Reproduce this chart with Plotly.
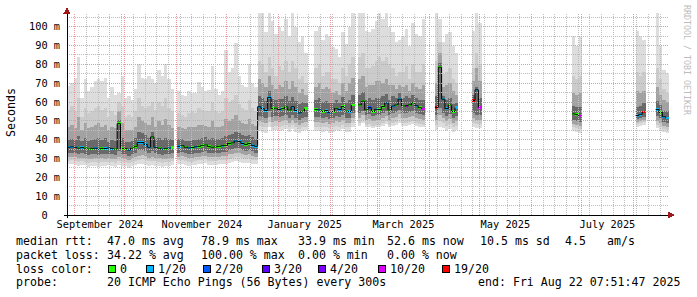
import plotly.graph_objects as go
from datetime import datetime, timedelta

# ---------------------------------------------------------------- data
START = datetime(2024, 8, 27, 7, 51, 47)
END = datetime(2025, 8, 22, 7, 51, 47)
BIN_DAYS = 2

# index of each 2-day sample (samples missing from the list = no data)
bin_index = (list(range(0, 32)) + list(range(33, 72)) + list(range(74, 86)) +
             list(range(87, 107)) + list(range(110, 117)) + list(range(121, 124)) +
             list(range(151, 154)) + list(range(170, 173)) + list(range(176, 180)))

# median round trip time (ms)
median_ms = [
    36.0, 36.2, 36.0, 35.5, 35.8, 35.5, 35.0, 35.2, 35.5, 35.0, 35.4, 35.3, 35.6, 35.2, 35.0, 48.5,
    35.3, 35.2, 34.5, 35.5, 36.5, 38.5, 38.5, 37.5, 36.0, 41.5, 36.0, 35.5, 35.0, 35.2, 35.5, 35.8,
    36.5, 36.8, 36.0, 35.6, 35.8, 36.2, 36.5, 37.0, 37.2, 36.3, 36.0, 36.2, 36.5, 36.8, 37.0, 38.0,
    38.3, 39.3, 39.0, 38.0, 37.5, 38.0, 37.0, 36.5,
    57.5, 56.5, 55.5, 62.5, 56.5, 56.8, 56.0, 56.5, 57.5, 55.8, 57.5, 55.5, 54.2, 55.2, 56.5,
    56.0, 55.8, 55.0, 55.5, 54.3, 55.0, 56.7, 56.0, 57.6, 55.2, 55.0, 58.5,
    58.5, 60.5, 55.8, 57.0, 55.0, 56.2, 56.0, 57.6, 59.5, 55.8, 57.9, 58.5, 61.5, 57.9, 58.0, 58.5,
    59.6, 58.0, 57.0, 56.4,
    57.2, 78.5, 61.5, 56.5, 58.5, 55.0, 57.0,
    60.8, 66.5, 57.0,
    53.7, 53.3, 52.5,
    52.8, 53.5, 54.8,
    56.0, 54.5, 52.2, 51.5,
]

# lost pings out of 20 for each sample
loss_count = [
    1, 1, 1, 0, 1, 0, 0, 0, 1, 1, 0, 1, 1, 1, 0, 0, 0, 0, 1, 0, 0, 1, 1, 1, 1, 0, 1, 0, 1, 0, 1, 0,
    1, 0, 0, 1, 0, 1, 0, 0, 0, 0, 0, 0, 0, 1, 0, 0, 0, 1, 1, 1, 0, 0, 1, 1,
    1, 1, 1, 1, 0, 0, 1, 0, 0, 0, 1, 1, 1, 0, 0,
    0, 1, 0, 1, 1, 0, 0, 1, 0, 0, 1, 0,
    0, 0, 0, 2, 0, 1, 0, 0, 1, 0, 1, 0, 1, 0, 10, 0, 0, 1, 0, 10,
    19, 0, 1, 1, 0, 0, 1,
    19, 1, 10,
    0, 0, 10,
    1, 1, 19,
    1, 0, 1, 1,
]

# smoke: spread of the 20 pings (ms), outermost to innermost
smoke_max = [
    68.6, 70, 73, 84, 62, 72, 66, 68, 71, 72, 71, 73, 62, 68, 64, 65,
    74, 62, 63, 61, 67, 80, 73, 72, 74, 72, 70, 77, 74, 80, 72, 67,
    66, 64, 63, 66, 65, 64.7, 70.9, 68, 66, 66.5, 78.9, 67, 64, 66, 87.8, 76,
    78, 91.3, 74, 69, 68, 80, 70, 68,
    110, 110, 97, 110, 103, 96, 100, 98, 104, 95, 110, 100, 92, 95, 86,
    98, 100, 93, 96, 95, 89, 88, 84, 97, 91, 100, 110,
    110, 110, 98, 97, 99, 103, 110, 104, 110, 100, 97, 92, 93, 95, 99, 90,
    102, 96, 95, 104,
    110, 104, 92, 96, 97, 90, 86,
    98, 110, 102,
    95, 90, 95,
    98, 95, 93,
    110, 90, 77, 75.5,
]
smoke_hi3 = [
    56, 58, 55, 62, 52, 57, 54, 55, 57, 58, 56, 57, 52, 55, 53, 60,
    58, 52, 53, 52, 55, 62, 58, 57, 58, 60, 56, 60, 58, 62, 57, 55,
    54, 53, 52, 54, 55, 54, 57, 56, 55, 55, 60, 55, 54, 55, 62, 60,
    61, 64, 59, 57, 56, 61, 57, 55,
    82, 80, 76, 84, 78, 74, 79, 77, 82, 76, 82, 78, 72, 74, 70,
    78, 80, 74, 76, 76, 72, 72, 70, 78, 74, 80, 84,
    84, 86, 78, 78, 79, 82, 84, 82, 84, 80, 78, 74, 76, 76, 79, 72,
    80, 76, 76, 80,
    82, 92, 75, 76, 78, 72, 70,
    78, 86, 80,
    74, 72, 74,
    76, 74, 76,
    78, 72, 67, 65,
]
smoke_hi2 = [
    47, 48, 46, 52, 45, 49, 46, 47, 48, 49, 47, 48, 45, 47, 46, 55,
    49, 45, 45, 45, 47, 52, 50, 49, 48, 52, 47, 50, 48, 51, 48, 46,
    47, 46, 45.5, 46.5, 47, 46.5, 48, 48, 47.5, 47, 50, 47, 47, 47.5, 51, 50,
    51, 53, 50, 49, 48.5, 51, 48.5, 47.5,
    72, 70, 68, 74, 69, 67, 69, 68, 71, 67, 71, 68, 65, 67, 64,
    68, 70, 67, 68, 67, 65, 66, 64, 70, 66, 70, 73,
    72, 74, 68, 69, 69, 71, 71, 70, 72, 69, 69, 67, 69, 68, 69, 66,
    70, 68, 67, 69,
    70, 86, 68, 69, 70, 66, 64,
    71, 78, 71,
    65, 64, 65,
    66, 65, 66,
    68, 64, 61, 60,
]
smoke_hi1 = [
    40, 40.5, 40, 42, 39.5, 41, 39.5, 40, 40.5, 41, 40, 41, 39, 40, 39.5, 50.5,
    41, 39, 39, 39.5, 41, 44, 43.5, 42.5, 41, 44, 40.5, 41, 40, 41, 40.5, 40,
    40.5, 40.5, 39.5, 39.5, 40, 40, 40.5, 41, 41.5, 40.5, 41, 40.5, 40.5, 41, 42, 42.5,
    43, 44, 43.5, 42.5, 42, 42.5, 41.5, 40.5,
    63, 62, 60.5, 66, 61.5, 61, 61.5, 61.5, 63, 60.5, 62.5, 60.5, 59, 60, 59.5,
    61, 62, 60, 60.5, 59.5, 59.5, 61, 59.5, 62.5, 59.5, 61, 64,
    63.5, 65.5, 61, 62, 61, 62, 62, 63, 64.5, 61, 63, 62, 65, 62, 63, 62,
    64, 62, 61, 61,
    63, 81, 63, 61, 62, 59, 59.5,
    64, 68, 62,
    58, 57.5, 57.5,
    57.5, 58, 59.5,
    60.5, 58.5, 55.5, 55,
]
smoke_lo1 = [
    33, 33.2, 33, 32.5, 32.8, 32.5, 32, 32.3, 32.5, 32, 32.5, 32.3, 32.6, 32.2, 32, 34,
    32.4, 32.2, 31.6, 32.5, 33.2, 34.5, 34.5, 33.8, 32.8, 34, 32.8, 32.5, 32, 32.2, 32.5, 32.8,
    33.2, 33.5, 32.8, 32.5, 32.6, 33, 33.2, 33.6, 33.8, 33, 32.8, 33, 33.2, 33.5, 33.6, 34.5,
    34.8, 35.6, 35.4, 34.6, 34.2, 34.6, 33.8, 33.2,
    52.5, 52, 51.5, 55, 52, 52.5, 52, 52.5, 53, 51.5, 53, 51.5, 50.5, 51.5, 52,
    52, 52, 51.5, 52, 51, 51.5, 52.5, 52, 53, 51.5, 51.5, 54,
    54, 55.5, 53, 53.5, 52.5, 53, 53, 54, 55, 53, 54, 54.5, 56, 54, 54, 54.5,
    55, 54, 53.5, 53,
    53, 57, 54, 52.5, 53.5, 51.5, 52.5,
    54, 53, 53,
    50.5, 50, 49.5,
    50.8, 51.3, 52.3,
    52.5, 51.5, 49.5, 49,
]
smoke_lo2 = [
    30.8, 31, 30.8, 30.2, 30.5, 30.3, 29.8, 30, 30.3, 29.8, 30.2, 30, 30.4, 30, 29.8, 31,
    30.2, 30, 29.4, 30.2, 30.8, 31.5, 31.8, 31.2, 30.5, 31, 30.5, 30.3, 29.8, 30, 30.3, 30.5,
    31, 31.3, 30.6, 30.3, 30.4, 30.8, 31, 31.4, 31.6, 30.8, 30.6, 30.8, 31, 31.3, 31.4, 32.2,
    32.5, 33.2, 33, 32.3, 31.9, 32.3, 31.5, 31,
    50, 49.5, 49, 52, 49.5, 50, 49.5, 50, 50.5, 49, 50.5, 49, 48, 49, 49.5,
    49.5, 49.5, 49, 49.5, 48.5, 49, 50, 49.5, 50.5, 49, 49, 51.5,
    51.5, 53, 50.5, 51, 50, 50.5, 50.5, 51.5, 52.5, 50.5, 51.5, 52, 53.5, 51.5, 51.5, 52,
    52.5, 51.5, 51, 50.5,
    50.5, 53, 51.5, 50, 51, 49, 50,
    51.5, 50.5, 50.5,
    48.5, 48, 47.5,
    49.5, 50, 50.5,
    50, 49, 47.5, 47,
]
smoke_lo3 = [
    28.8, 29, 28.8, 28.2, 28.5, 28.3, 27.8, 28, 28.3, 27.8, 28.2, 28, 28.4, 28, 27.8, 28.5,
    28.2, 28, 27.4, 28.2, 28.8, 29.2, 29.5, 29, 28.5, 28.8, 28.5, 28.3, 27.8, 28, 28.3, 28.5,
    29, 29.2, 28.6, 28.3, 28.4, 28.8, 29, 29.3, 29.5, 28.8, 28.6, 28.8, 29, 29.2, 29.3, 30,
    30.3, 31, 30.8, 30.1, 29.8, 30.1, 29.4, 29,
    47.5, 47, 46.5, 49.5, 47, 47.5, 47, 47.5, 48, 46.5, 48, 46.5, 45.5, 46.5, 47,
    47, 47, 46.5, 47, 46, 46.5, 47.5, 47, 48, 46.5, 46.5, 49,
    49, 50.5, 48, 48.5, 47.5, 48, 48, 49, 50, 48, 49, 49.5, 51, 49, 49, 49.5,
    50, 49, 48.5, 48,
    48, 50, 49, 47.5, 48.5, 46.5, 47.5,
    49, 48.5, 48.5,
    46.5, 46, 45.5,
    48.5, 49, 49.5,
    48, 47, 45.5, 45,
]
smoke_min = [
    27, 27, 26.8, 26, 26.5, 26.3, 25.5, 26, 26.2, 25.5, 26, 25.8, 26.4, 26, 25.5, 26.5,
    26, 25.8, 25.2, 26, 26.5, 27, 27.2, 26.8, 26.2, 26.5, 26.2, 26, 25.6, 26, 26.2, 26.5,
    27, 27.2, 26.5, 26.2, 26.4, 26.8, 27, 27.2, 27.4, 26.8, 26.5, 26.8, 27, 27.2, 27.2, 27.8,
    28, 28.6, 28.4, 27.8, 27.5, 27.8, 27.2, 27,
    44.5, 44, 43.5, 46.5, 44.5, 45, 44.5, 45, 45.5, 44, 45.5, 44, 43.5, 44.5, 45,
    44.5, 44.5, 44, 44.5, 43.5, 44, 45, 44.5, 45.5, 44, 44, 46.5,
    47.5, 49, 46.5, 47, 46, 46.5, 46.5, 47.5, 48.5, 46.5, 47.5, 48, 49, 47.5, 47.5, 48,
    48.5, 47.5, 47, 46.5,
    45, 47, 46, 44.5, 45.5, 44, 45,
    46.5, 46, 46,
    44.5, 44, 43.5,
    47, 47.5, 48,
    46, 45, 44, 43.5,
]

# axis texts
y_ticks = [0, 10, 20, 30, 40, 50, 60, 70, 80, 90, 100]
y_tick_labels = ["0\u00a0\u00a0", "10 m", "20 m", "30 m", "40 m", "50 m",
                 "60 m", "70 m", "80 m", "90 m", "100 m"]
x_label_months = [(2024, 9), (2024, 11), (2025, 1), (2025, 3), (2025, 5), (2025, 7)]
x_tick_labels = ["September 2024", "November 2024", "January 2025",
                 "March 2025", "May 2025", "July 2025"]
y_title = "Seconds"
watermark = "RRDTOOL / TOBI OETIKER"

# legend texts
rtt_title = "median rtt:"
rtt_stats = ["47.0 ms avg", "78.9 ms max", "33.9 ms min", "52.6 ms now", "10.5 ms sd", "4.5", "am/s"]
loss_title = "packet loss:"
loss_stats = ["34.22 % avg", "100.00 % max", "0.00 % min", "0.00 % now"]
color_title = "loss color:"
loss_levels = [0, 1, 2, 3, 4, 10, 19]
loss_labels = ["0", "1/20", "2/20", "3/20", "4/20", "10/20", "19/20"]
probe_title = "probe:"
probe_text = "20 ICMP Echo Pings (56 Bytes) every 300s"
end_text = "end: Fri Aug 22 07:51:47 2025"

# ---------------------------------------------------------------- styling
LOSS_COLORS = {0: "#26ff00", 1: "#00b8ff", 2: "#0059ff", 3: "#5e00ff",
               4: "#7e00ff", 10: "#dd00ff", 19: "#ff0000"}
SMOKE_COLORS = ["#dddddd", "#cbcbcb", "#a2a2a2", "#696969"]
MONO = "DejaVu Sans Mono"
W, H = 697, 297
PL, PR, PT, PB = 67, 669, 13, 215          # plot area in pixels
Y_TOP = 107.3

BIN_MS = BIN_DAYS * 86400 * 1000
x_center = [START + timedelta(days=BIN_DAYS * i + BIN_DAYS / 2) for i in bin_index]

fig = go.Figure()

bands = [(smoke_min, smoke_max), (smoke_lo3, smoke_hi3),
         (smoke_lo2, smoke_hi2), (smoke_lo1, smoke_hi1)]
for (lo, hi), col in zip(bands, SMOKE_COLORS):
    fig.add_trace(go.Bar(x=x_center, y=[h - l for l, h in zip(lo, hi)], base=lo,
                         width=BIN_MS, marker=dict(color=col, line=dict(width=0)),
                         hoverinfo="skip"))

# black median line (step), broken at gaps
lx, ly = [], []
prev = None
for i, m in zip(bin_index, median_ms):
    if prev is not None and i != prev + 1:
        lx.append(None)
        ly.append(None)
    lx.append(START + timedelta(days=BIN_DAYS * i))
    ly.append(m)
    prev = i
fig.add_trace(go.Scatter(x=lx, y=ly, mode="lines", line=dict(color="black", width=1, shape="hv"),
                         connectgaps=False, hoverinfo="skip"))

# loss-coloured median segments
THICK = 1.3
for lv in loss_levels:
    xs = [x for x, l in zip(x_center, loss_count) if l == lv]
    ms = [m for m, l in zip(median_ms, loss_count) if l == lv]
    if not xs:
        continue
    fig.add_trace(go.Bar(x=xs, y=[THICK] * len(xs), base=[m - THICK / 2 for m in ms],
                         width=BIN_MS, marker=dict(color=LOSS_COLORS[lv], line=dict(width=0)),
                         hoverinfo="skip"))


def pxx(p):
    return (p - PL) / (PR - PL)


def pyy(p):
    return (PB - p) / (PB - PT)


shapes = []
GRID_MINOR = "#bdbdbd"
GRID_MAJOR = "#e89a9a"
DOT = "1px,1px"
# horizontal grid
for v in range(5, 110, 5):
    if v > Y_TOP:
        break
    major = v % 10 == 0
    shapes.append(dict(type="line", xref="paper", yref="y", x0=0, x1=1, y0=v, y1=v, layer="above",
                       line=dict(color=GRID_MAJOR if major else GRID_MINOR, width=1, dash=DOT)))
# vertical grid: months (major) and weeks (minor)
month_starts = []
y_, m_ = START.year, START.month
while True:
    m_ += 1
    if m_ > 12:
        m_, y_ = 1, y_ + 1
    d = datetime(y_, m_, 1)
    if d >= END:
        break
    month_starts.append(d)
d = datetime(START.year, START.month, START.day) + timedelta(days=1)
while d.weekday() != 6:
    d += timedelta(days=1)
while d < END:
    if d not in month_starts:
        shapes.append(dict(type="line", xref="x", yref="paper", x0=d, x1=d, y0=0, y1=1, layer="above",
                           line=dict(color=GRID_MINOR, width=1, dash=DOT)))
    d += timedelta(days=7)
for d in month_starts:
    shapes.append(dict(type="line", xref="x", yref="paper", x0=d, x1=d, y0=0, y1=1, layer="above",
                       line=dict(color=GRID_MAJOR, width=1, dash=DOT)))

# axes with arrows
AX = "#000000"
ARROW = "#a01818"
shapes.append(dict(type="line", xref="paper", yref="paper", x0=pxx(64), x1=pxx(670),
                   y0=pyy(215), y1=pyy(215), layer="above", line=dict(color=AX, width=1)))
shapes.append(dict(type="line", xref="paper", yref="paper", x0=pxx(67), x1=pxx(67),
                   y0=pyy(218), y1=pyy(11), layer="above", line=dict(color=AX, width=1)))
shapes.append(dict(type="path", xref="paper", yref="paper", layer="above",
                   path=f"M {pxx(63.5)},{pyy(13.5)} L {pxx(70.5)},{pyy(13.5)} L {pxx(67)},{pyy(7)} Z",
                   fillcolor=ARROW, line=dict(color=ARROW, width=0)))
shapes.append(dict(type="path", xref="paper", yref="paper", layer="above",
                   path=f"M {pxx(668)},{pyy(211.5)} L {pxx(668)},{pyy(218.5)} L {pxx(674.5)},{pyy(215)} Z",
                   fillcolor=ARROW, line=dict(color=ARROW, width=0)))

# legend colour boxes
box_x = [108, 146, 203, 262, 318, 378, 442]
for bx, lv in zip(box_x, loss_levels):
    shapes.append(dict(type="rect", xref="paper", yref="paper", layer="above",
                       x0=pxx(bx), x1=pxx(bx + 7.5), y0=pyy(265), y1=pyy(272.5),
                       fillcolor=LOSS_COLORS[lv], line=dict(color="black", width=1)))

annotations = []
LEG_FONT = dict(family=MONO, size=11.6, color="black")


def text_at(x, y, s, font=LEG_FONT):
    annotations.append(dict(text=s, xref="paper", yref="paper", x=pxx(x - 0.5), y=pyy(y),
                            xanchor="left", yanchor="middle", showarrow=False,
                            borderpad=0, borderwidth=0, font=font))


COLS = [107, 201, 298, 387, 480, 565, 607]
L1, L2, L3, L4 = 241, 255, 268.7, 282
text_at(16, L1, rtt_title)
for x, s in zip(COLS, rtt_stats):
    text_at(x, L1, s)
text_at(16, L2, loss_title)
for x, s in zip(COLS, loss_stats):
    text_at(x, L2, s)
text_at(16, L3, color_title)
for bx, s in zip(box_x, loss_labels):
    text_at(bx + 12, L3, s)
text_at(16, L4, probe_title)
text_at(107, L4, probe_text)
text_at(478, L4, end_text)

annotations.append(dict(text=y_title, xref="paper", yref="paper", x=pxx(11), y=pyy(113),
                        xanchor="center", yanchor="middle", textangle=-90, showarrow=False,
                        font=dict(family=MONO, size=11.6, color="black")))
annotations.append(dict(text=watermark, xref="paper", yref="paper", x=pxx(687), y=pyy(60),
                        xanchor="center", yanchor="middle", textangle=90, showarrow=False,
                        font=dict(family=MONO, size=8.3, color="#bcbcbc")))


def mid_month(y, m):
    a = datetime(y, m, 1)
    b = datetime(y + (m // 12), m % 12 + 1, 1)
    return a + (b - a) / 2


fig.update_layout(
    width=W, height=H, margin=dict(l=PL, r=W - PR, t=PT, b=H - PB, pad=0),
    paper_bgcolor="white", plot_bgcolor="white", barmode="overlay", showlegend=False,
    shapes=shapes, annotations=annotations, bargap=0,
    xaxis=dict(type="date", range=[START, END], showgrid=False, zeroline=False, showline=False,
               tickvals=[mid_month(y, m) for y, m in x_label_months], ticktext=x_tick_labels,
               ticks="", tickfont=dict(family=MONO, size=10.3, color="black"), ticklabelstandoff=2),
    yaxis=dict(range=[0, Y_TOP], showgrid=False, zeroline=False, showline=False,
               tickvals=y_ticks, ticktext=y_tick_labels, ticks="",
               tickfont=dict(family=MONO, size=10.3, color="black"), ticklabelstandoff=6),
)

post = ("var st=document.createElement('style');"
        "st.textContent='.shapelayer path{shape-rendering:crispEdges !important;}';"
        "document.head.appendChild(st);")
fig.write_html("out.html", post_script=post)
